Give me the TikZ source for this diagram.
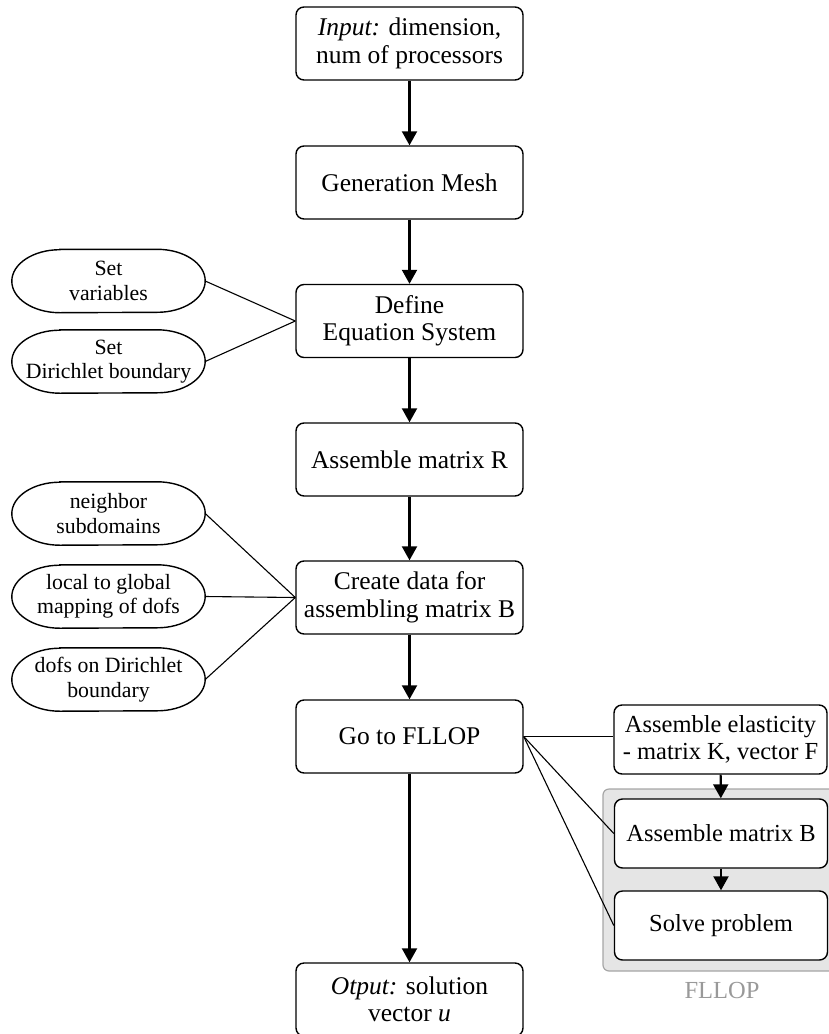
\documentclass[tikz,border=0pt]{standalone}
\usepackage{fontspec}
\setmainfont{Liberation Serif}
\usetikzlibrary{arrows.meta}
\tikzset{
  box/.style={draw, rounded corners=8pt, line width=1.4pt, minimum width=227pt, minimum height=73pt,
    inner sep=2pt, align=center, fill=white, font=\fontsize{25.5}{27.5}\selectfont},
  sidebox/.style={draw, rounded corners=8pt, line width=1.4pt, minimum width=213pt, minimum height=69pt,
    inner sep=2pt, align=center, fill=white, font=\fontsize{24.5}{26.5}\selectfont},
  oval/.style={rectangle, minimum width=193pt, minimum height=63pt,
    inner sep=1pt, align=center, font=\fontsize{21.8}{24.5}\selectfont},
  ovalline/.style={line width=1.4pt},
  flow/.style={line width=2.1pt, -{Triangle[length=14pt,width=15pt]}},
  link/.style={line width=1.1pt},
}
\newcommand\ovaldraw[1]{%
  \draw[ovalline] ([xshift=48pt]#1.north west) -- ([xshift=-48pt]#1.north east)
    arc[start angle=90,end angle=-90,x radius=48pt,y radius=31.5pt]
    -- ([xshift=48pt]#1.south west)
    arc[start angle=270,end angle=90,x radius=48pt,y radius=31.5pt] -- cycle;}
\begin{document}
\begin{tikzpicture}[x=1pt,y=-1pt]
\useasboundingbox (0,0) rectangle (829,1034);
\fill[gray!20, draw=gray!70, line width=1.2pt, rounded corners=6pt] (603,789) rectangle (845,971);
\node[text=gray!80, font=\fontsize{24.5}{26}\selectfont] (fl) at (722,990) {FLLOP};

\node[box] (in) at (409.5,43.5) {\textit{Input:} dimension,\\num of processors};
\node[box] (gen) at (409.5,182.5) {Generation Mesh};
\node[box] (def) at (409.5,321) {Define\\Equation System};
\node[box] (asr) at (409.5,459.5) {Assemble matrix R};
\node[box] (cre) at (409.5,597.5) {Create data for\\assembling matrix B};
\node[box] (go) at (409.5,736.5) {Go to FLLOP};
\node[box] (out) at (409.5,999.5) {\textit{Otput:} solution\\vector \textit{u}};

\node[oval] (sv) at (108.5,281) {Set\\variables};
\node[oval] (sd) at (108.5,361.5) {Set\\Dirichlet boundary};
\node[oval] (ns) at (108.5,513.5) {neighbor\\subdomains};
\node[oval] (lg) at (108.5,596.5) {local to global\\mapping of dofs};
\node[oval] (dd) at (108.5,679.5) {dofs on Dirichlet\\boundary};
\ovaldraw{sv}\ovaldraw{sd}\ovaldraw{ns}\ovaldraw{lg}\ovaldraw{dd}

\node[sidebox] (el) at (720.5,739.5) {Assemble elasticity\\- matrix K, vector F};
\node[sidebox] (ab) at (721,833.5) {Assemble matrix B};
\node[sidebox] (sp) at (721,925.5) {Solve problem};

\draw[flow] (in) -- (gen);
\draw[flow] (gen) -- (def);
\draw[flow] (def) -- (asr);
\draw[flow] (asr) -- (cre);
\draw[flow] (cre) -- (go);
\draw[flow] (go) -- (out);
\draw[flow] (el) -- (ab);
\draw[flow] (ab) -- (sp);

\draw[link] (sv.east) -- (def.west);
\draw[link] (sd.east) -- (def.west);
\draw[link] (ns.east) -- (cre.west);
\draw[link] (lg.east) -- (cre.west);
\draw[link] (dd.east) -- (cre.west);
\draw[link] (go.east) -- (go.east -| el.west);
\draw[link] (go.east) -- (ab.west);
\draw[link] (go.east) -- (sp.west);
\end{tikzpicture}
\end{document}
